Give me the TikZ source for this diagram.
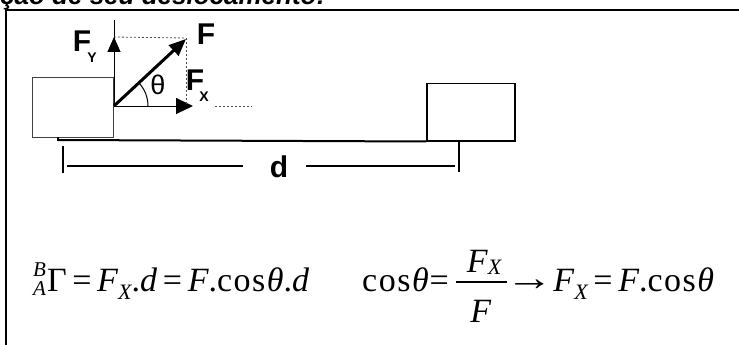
\documentclass[tikz,border=0pt]{standalone}
\usepackage{fontspec}
\usepackage{graphicx}
\setmainfont{Liberation Serif}
\setsansfont{Liberation Sans}
\usetikzlibrary{arrows.meta}
\newcommand\lowsub[1]{\raisebox{-8pt}{\fontsize{22}{22}\selectfont\itshape #1}}
\newcommand\numsub[1]{\raisebox{-2pt}{\fontsize{22}{22}\selectfont\itshape #1}}
\newcommand\prescr{\rlap{\raisebox{15pt}{\fontsize{21}{21}\selectfont\itshape B}}\raisebox{-4pt}{\fontsize{21}{21}\selectfont\itshape A}\kern1pt}
\newcommand\cosw{c\kern1.5pt o\kern1.5pt s\kern1.5pt}
\newcommand\rarr{\kern-4.5pt\raisebox{1pt}{\scalebox{1.4}[1.1]{→}}}
\begin{document}
\begin{tikzpicture}[x=1pt,y=-1pt,
  lbl/.style={font=\sffamily\bfseries\fontsize{30}{30}\selectfont, inner sep=0pt},
  sublbl/.style={font=\sffamily\bfseries\fontsize{14}{14}\selectfont, inner sep=0pt},
  eq/.style={font=\fontsize{34}{34}\selectfont, inner sep=0pt, anchor=base west},
  eqc/.style={font=\fontsize{34}{34}\selectfont, inner sep=0pt, anchor=base},
  blockA/.style={draw=black!75, line width=1pt, inner sep=0pt, anchor=north west},
  blockB/.style={draw=black, line width=1.5pt, inner sep=0pt, anchor=north west},
  guide/.style={draw=black!70, line width=0.8pt, dash pattern=on 2pt off 2pt},
  tip/.style={-{Triangle[length=15pt,width=13pt]}},
  dimline/.style={line width=1.5pt}]
\useasboundingbox (0,0) rectangle (739,345);
% cut-off heading
\node[font=\sffamily\bfseries\itshape\fontsize{26}{26}\selectfont, anchor=base west, inner sep=0pt] (title) at (0,5) {ção de seu deslocamento:};
% frame
\coordinate (fbl) at (6,345);
\coordinate (ftl) at (6,10);
\coordinate (ftr) at (739,10);
\draw[line width=2pt] (fbl) -- (ftl) -- (ftr);
% blocks
\node[blockA, minimum width=81pt, minimum height=60pt] (boxA) at (32,77) {};
\node[blockB, minimum width=88pt, minimum height=57pt] (boxB) at (426,83) {};
% ground
\coordinate (g0) at (58,137);
\coordinate (g1) at (58,140);
\draw[line width=2pt] (g0) -- (g1) -- (boxB.south west);
% force construction
\coordinate (O) at (114,106);
\coordinate (Ytop) at (114,20);
\coordinate (FyTip) at (114,37);
\coordinate (FTip) at (186,39);
\coordinate (FxTip) at (193,106);
\coordinate (Fdrop) at (186,104);
\coordinate (Fyguide) at (186,38);
\coordinate (d0) at (215,106);
\coordinate (d1) at (252,106);
\draw[line width=1pt] (O) -- (Ytop);
\draw[line width=1pt, tip] (O) -- (FyTip);
\draw[line width=1pt, -{Triangle[length=17pt,width=16pt]}] (O) -- (FxTip);
\draw[guide] (FyTip) -- (Fyguide);
\draw[guide] (Fyguide) -- (Fdrop);
\draw[guide] (d0) -- (d1);
\draw[line width=3pt, -{Triangle[length=17pt,width=14pt]}] (O) -- (FTip);
\draw[line width=1pt] (O) ++(34,0) arc[start angle=0, end angle=-44, radius=34];
\node[font=\sffamily\fontsize{27}{27}\selectfont, inner sep=0pt] (theta) at (158,85) {θ};
% labels
\node[lbl, anchor=base] (F) at (206,45) {F};
\node[lbl, anchor=base] (Fy) at (82,52) {F};
\node[sublbl, anchor=base] (Fysub) at (92,63) {Y};
\node[lbl, anchor=base] (Fx) at (195,90) {F};
\node[sublbl, anchor=base] (Fxsub) at (204,102) {X};
% dimension d
\coordinate (t0a) at (63,146);
\coordinate (t0b) at (63,173);
\coordinate (t1a) at (459,141);
\coordinate (t1b) at (459,172);
\draw[line width=2pt] (t0a) -- (t0b);
\draw[line width=2pt] (t1a) -- (t1b);
\node[font=\sffamily\bfseries\fontsize{30}{30}\selectfont, inner sep=0pt, anchor=base] (d) at (279,177) {d};
\coordinate (dl0) at (67,166);
\coordinate (dl1) at (243,166);
\coordinate (dr0) at (306,166);
\coordinate (dr1) at (455,166);
\draw[dimline] (dl0) -- (dl1);
\draw[dimline] (dr0) -- (dr1);
% equations
\node[eq] (eq1) at (33,291) {\prescr Γ\,=\,\textit{F}\lowsub{X}.\textit{d}\,=\,\textit{F}.\cosw\textit{θ}.\textit{d}};
\node[eq] (eq2a) at (362,291) {\cosw\textit{θ}\kern1pt=};
\node[eqc] (num) at (484,272) {\textit{F}\numsub{X}};
\node[eqc] (den) at (481,322) {\textit{F}};
\coordinate (bar0) at (456,282);
\coordinate (bar1) at (507,282);
\draw[line width=1.5pt] (bar0) -- (bar1);
\node[eq] (eq2b) at (510,291) {\rarr\textit{F}\lowsub{X}\,=\,\textit{F}.\cosw\textit{θ}};
\end{tikzpicture}
\end{document}
